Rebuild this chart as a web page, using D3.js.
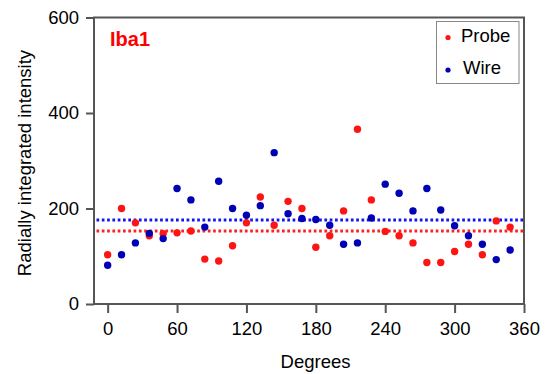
<!DOCTYPE html>
<html>
<head>
<meta charset="utf-8">
<script src="https://cdn.jsdelivr.net/npm/d3@7"></script>
<style>
  body { margin: 0; background: #fff; }
  svg { display: block; font-family: "Liberation Sans", Arial, sans-serif; }
</style>
</head>
<body>
<svg id="chart" width="548" height="374"></svg>
<script>
const degrees = [0,12,24,36,48,60,72,84,96,108,120,132,144,156,168,180,192,204,216,228,240,252,264,276,288,300,312,324,336,348];
const probe = [103,200,170,143,147,149,153,94,90,122,170,224,165,215,200,119,143,195,366,218,152,143,128,87,87,110,125,103,174,161];
const wire  = [81,103,128,148,137,242,218,161,257,200,186,206,317,189,179,177,165,125,128,180,251,232,195,242,197,164,143,125,93,113];
const means = [{name:"Probe", value:153}, {name:"Wire", value:176}];
const xTicks = [0,60,120,180,240,300,360];
const yTicks = [0,200,400,600];
const seriesNames = ["Probe","Wire"];
const pointColors = {Probe:"#ff1414", Wire:"#0000b4"};
const lineColors = {Probe:"#ff2020", Wire:"#1414f0"};

(function () {
const svg = d3.select("#chart");
const mL = 94, mR = 524, mT = 17.5, mB = 304;
const x = d3.scaleLinear().domain([-11.8, 360]).range([mL, mR]);
const y = d3.scaleLinear().domain([0, 600]).range([mB, mT]);
const axisColor = "#555";
const fs = 18.5;

// frame
svg.append("rect").attr("x", mL).attr("y", mT).attr("width", mR-mL).attr("height", mB-mT)
  .attr("fill", "none").attr("stroke", axisColor).attr("stroke-width", 2);

// x axis
const xa = svg.append("g").attr("transform", `translate(0,${mB})`)
  .call(d3.axisBottom(x).tickValues(xTicks).tickSize(9).tickPadding(9).tickFormat(d3.format("d")));
xa.select(".domain").remove();
xa.selectAll("line").attr("stroke", axisColor).attr("stroke-width", 2);
xa.selectAll("text").attr("font-size", fs).attr("fill", "#000").attr("font-family", "Liberation Sans, Arial, sans-serif");

// y axis
const ya = svg.append("g").attr("transform", `translate(${mL},0)`)
  .call(d3.axisLeft(y).tickValues(yTicks).tickSize(8).tickPadding(7).tickFormat(d3.format("d")));
ya.select(".domain").remove();
ya.selectAll("line").attr("stroke", axisColor).attr("stroke-width", 2);
ya.selectAll("text").attr("font-size", fs).attr("fill", "#000").attr("font-family", "Liberation Sans, Arial, sans-serif");

// titles
svg.append("text").attr("x", 315.5).attr("y", 367.5).attr("text-anchor", "middle")
  .attr("font-size", fs).text("Degrees");
svg.append("text").attr("transform", "translate(31,163) rotate(-90)").attr("text-anchor", "middle")
  .attr("font-size", fs).text("Radially integrated intensity");

// mean lines
svg.append("g").selectAll("line").data(means).join("line")
  .attr("x1", mL + 2.5).attr("x2", mR - 1)
  .attr("y1", d => y(d.value)).attr("y2", d => y(d.value))
  .attr("stroke", d => lineColors[d.name]).attr("stroke-width", 3)
  .attr("stroke-dasharray", "2.7,2.6");

// points
const data = {Probe: probe, Wire: wire};
seriesNames.forEach(name => {
  svg.append("g").selectAll("circle").data(data[name]).join("circle")
    .attr("cx", (d, i) => x(degrees[i])).attr("cy", d => y(d)).attr("r", 3.7)
    .attr("fill", pointColors[name]);
});

// label
svg.append("text").attr("x", 110).attr("y", 46).attr("font-size", 20).attr("font-weight", "bold")
  .attr("fill", "#ff0000").text("Iba1");

// legend
const lg = svg.append("g");
lg.append("rect").attr("x", 436.5).attr("y", 21.5).attr("width", 82.5).attr("height", 62)
  .attr("fill", "#fff").attr("stroke", "#888").attr("stroke-width", 1);
seriesNames.forEach((name, i) => {
  const cy = i === 0 ? 37.5 : 70;
  const by = i === 0 ? 41.7 : 74;
  lg.append("circle").attr("cx", 448).attr("cy", cy).attr("r", 2.6).attr("fill", pointColors[name]);
  lg.append("text").attr("x", i === 0 ? 461 : 463).attr("y", by).attr("font-size", fs).text(name);
});
})();
</script>
</body>
</html>
